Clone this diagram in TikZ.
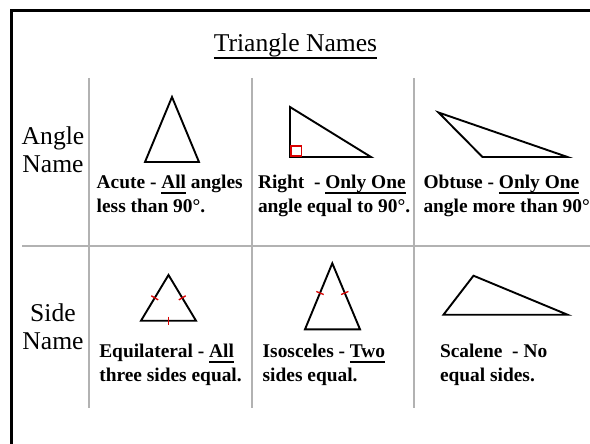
\documentclass[tikz,border=0pt]{standalone}
\usepackage{fontspec}
\setmainfont{Liberation Serif}
\usepackage{tikz}
\usetikzlibrary{calc}

\newcommand{\undl}[1]{\setbox0=\hbox{#1}\rlap{\rule[-0.28em]{\wd0}{0.09em}}\box0\relax}

\begin{document}
\begin{tikzpicture}[
    x=1pt, y=-1pt,
    every node/.style={inner sep=0pt, outer sep=0pt},
    heading/.style={font=\fontsize{25.6}{28}\selectfont, anchor=base},
    rowname/.style={font=\fontsize{25.6}{28}\selectfont, align=center, anchor=base},
    caption/.style={font=\fontsize{19.4}{23.8}\selectfont\bfseries, align=left, anchor=base west},
    gridline/.style={draw=black!30, line width=2pt},
    frame/.style={draw, line width=3pt},
    figure/.style={draw, line width=1.9pt, line join=miter},
    tickmark/.style={draw=red!85!black, line width=1.3pt}
]
\useasboundingbox (0,0) rectangle (590,444);

\draw[frame] (11.5,450) -- (11.5,11) -- (600,11);

\draw[gridline] (89,78) -- (89,408);
\draw[gridline] (252,78) -- (252,408);
\draw[gridline] (414,78) -- (414,408);
\draw[gridline] (22,245.5) -- (600,245.5);

\node[heading] (title) at (295.5,52) {\undl{Triangle Names}};

\node[rowname] (angle) at (53,172) {Angle\\Name};
\node[rowname] (side) at (53,349.3) {Side\\Name};

% angle row
\draw[figure] (172,97) -- (145,162) -- (199,162) -- cycle;
\draw[figure] (290,107) -- (290,157) -- (371,157) -- cycle;
\draw[tickmark] (291,156) rectangle (301.5,146);
\draw[figure] (438.5,112.5) -- (482.5,157) -- (567.5,157) -- cycle;

\node[caption] (acute) at (96.7,212.3) {Acute - \undl{All} angles\\less than 90°.};
\node[caption] (right) at (258,212.3) {Right\ \ - \undl{Only One}\\angle equal to 90°.};
\node[caption] (obtuse) at (423.5,212.3) {Obtuse - \undl{Only One}\\angle more than 90°.};

% side row
\coordinate (eqa) at (168.5,275);
\coordinate (eqb) at (141,320.7);
\coordinate (eqc) at (196,320.7);
\draw[figure] (eqa) -- (eqb) -- (eqc) -- cycle;
\draw[tickmark] ($(eqb)!0.5!(eqa)!4pt!90:(eqa)$) -- ($(eqb)!0.5!(eqa)!4pt!-90:(eqa)$);
\draw[tickmark] ($(eqa)!0.5!(eqc)!4pt!90:(eqc)$) -- ($(eqa)!0.5!(eqc)!4pt!-90:(eqc)$);
\draw[tickmark] ($(eqb)!0.5!(eqc)!4pt!90:(eqc)$) -- ($(eqb)!0.5!(eqc)!4pt!-90:(eqc)$);

\coordinate (isa) at (332.3,263.3);
\coordinate (isb) at (305,329.3);
\coordinate (isc) at (360,329.3);
\draw[figure] (isa) -- (isb) -- (isc) -- cycle;
\draw[tickmark] ($(isb)!0.55!(isa)!4pt!90:(isa)$) -- ($(isb)!0.55!(isa)!4pt!-90:(isa)$);
\draw[tickmark] ($(isa)!0.45!(isc)!4pt!90:(isc)$) -- ($(isa)!0.45!(isc)!4pt!-90:(isc)$);

\draw[figure] (473.5,275.7) -- (443.5,314.7) -- (567.5,314.7) -- cycle;

\node[caption] (equi) at (99.3,381) {Equilateral - \undl{All}\\three sides equal.};
\node[caption] (isos) at (262.7,381) {Isosceles - \undl{Two}\\sides equal.};
\node[caption] (scal) at (440,381) {Scalene\ \ - No\\equal sides.};

\end{tikzpicture}
\end{document}
